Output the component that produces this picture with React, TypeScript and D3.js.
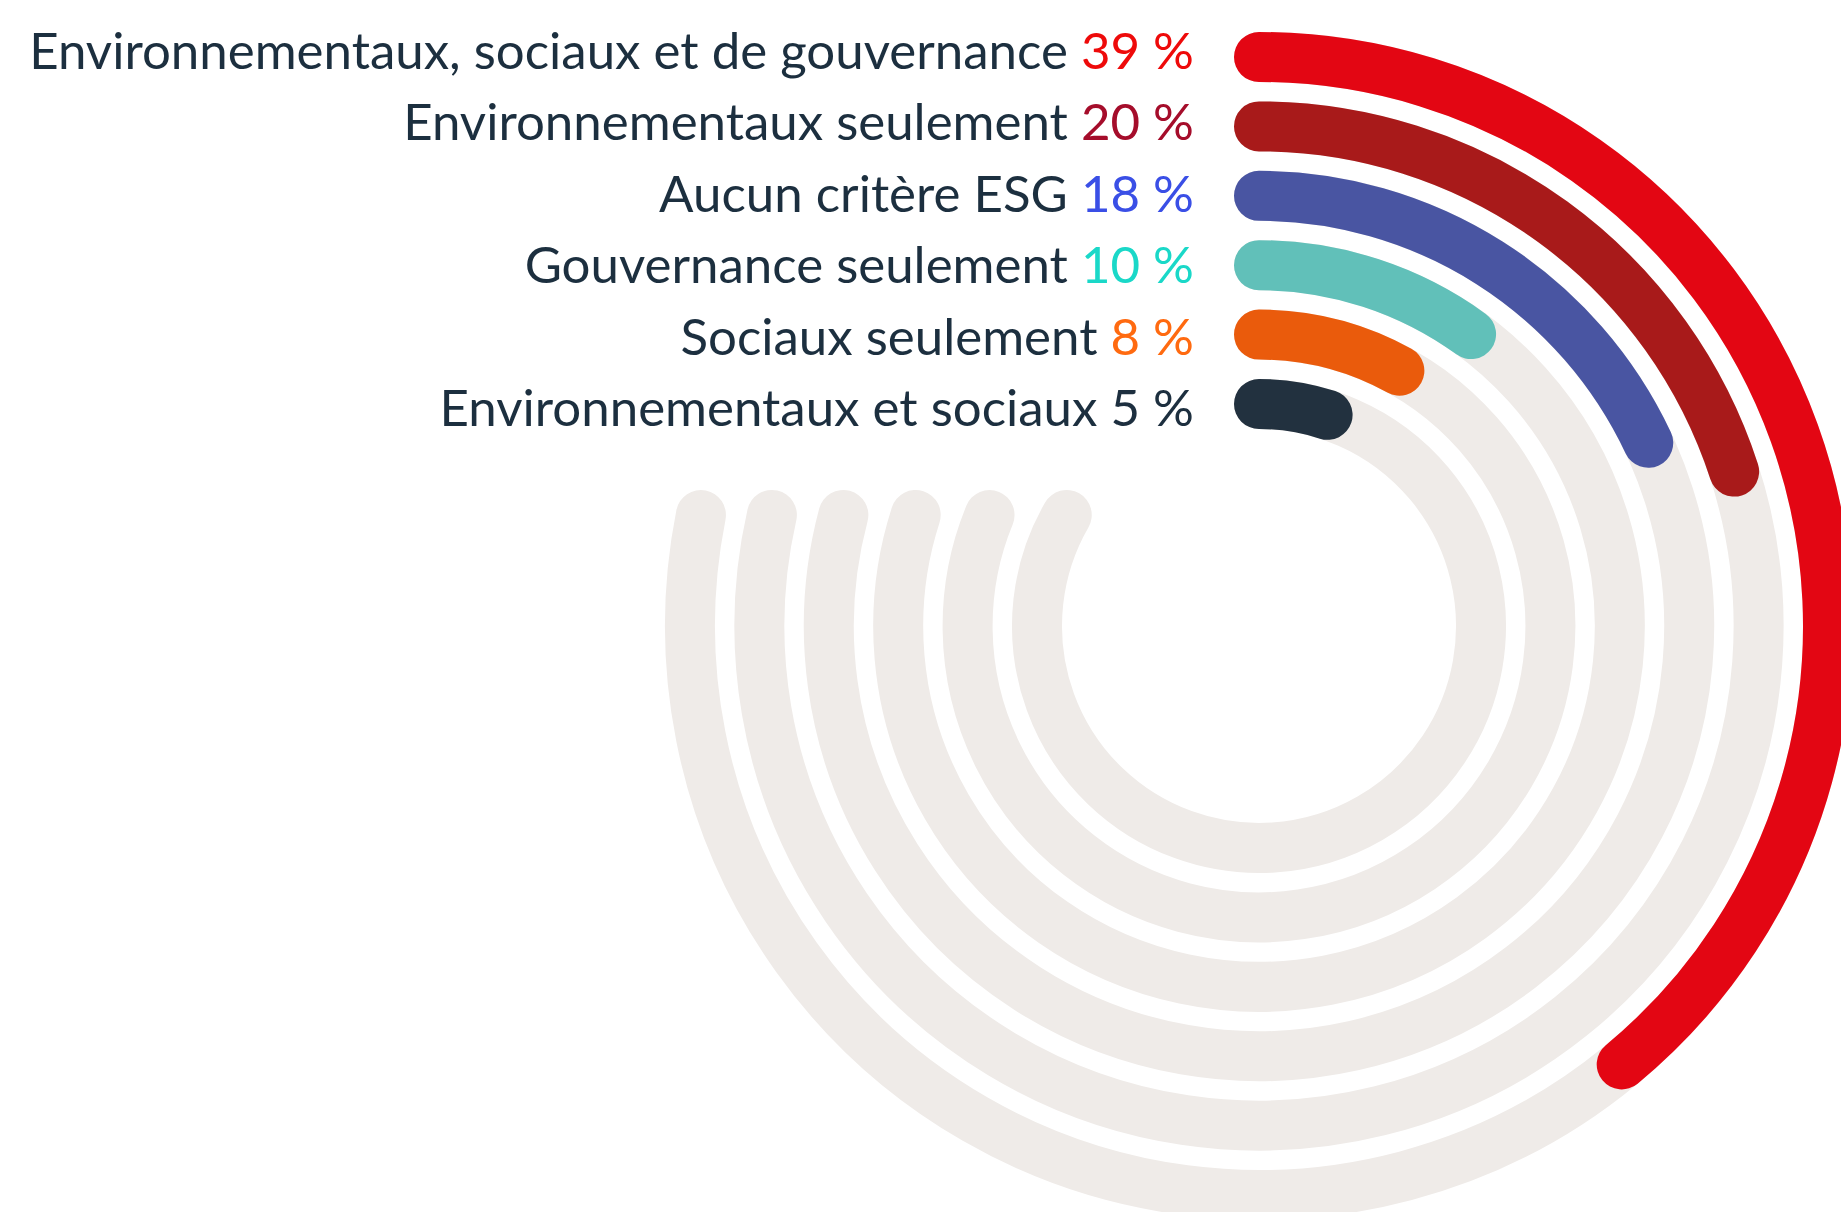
import React, { useEffect, useRef } from 'react';
import * as d3 from 'd3';

// share of respondents by ESG criteria used
const categories = [
    'Environnementaux, sociaux et de gouvernance',
    'Environnementaux seulement',
    'Aucun critère ESG',
    'Gouvernance seulement',
    'Sociaux seulement',
    'Environnementaux et sociaux',
];
const values = [39, 20, 18, 10, 8, 5];

const barColors = ['#e30613', '#a81a1a', '#4955a2', '#61c0b9', '#ea5b0c', '#22313f'];
const valueColors = ['#ee0a0a', '#a50d2b', '#3a4fe6', '#1ad8c8', '#ff6a10', '#1d2f3f'];

const App = () => {
    const chartRef = useRef<SVGSVGElement>(null);

    useEffect(() => {
        drawChart();
    }, []);

    const drawChart = () => {
        const width = 1841;
        const height = 1212;
        const cx = 1259;
        const cy = 626;
        const thickness = 50;
        const trackCut = 111; // tracks stop on a line this far above the centre

        const svg = d3.select(chartRef.current)
            .attr('width', width)
            .attr('height', height);
        svg.selectAll('*').remove();

        const r = d3.scalePoint<string>()
            .domain(categories)
            .range([569, 222]);

        const angle = d3.scaleLinear()
            .domain([0, 100])
            .range([0, 2 * Math.PI]);

        const labelY = d3.scalePoint<string>()
            .domain(categories)
            .range([69, 426]);

        const color = d3.scaleOrdinal<string, string>().domain(categories).range(barColors);
        const valueColor = d3.scaleOrdinal<string, string>().domain(categories).range(valueColors);

        const arcPath = (radius: number, a0: number, a1: number) => {
            const p = d3.path();
            p.arc(0, 0, radius, a0 - Math.PI / 2, a1 - Math.PI / 2);
            return p.toString();
        };

        const g = svg.append('g')
            .attr('transform', `translate(${cx},${cy})`);

        g.selectAll('.track')
            .data(categories)
            .enter().append('path')
            .attr('class', 'track')
            .attr('d', d => {
                const rad = r(d)!;
                return arcPath(rad, 0, 2 * Math.PI - Math.acos(trackCut / rad));
            })
            .attr('fill', 'none')
            .attr('stroke', '#efebe8')
            .attr('stroke-width', thickness)
            .attr('stroke-linecap', 'round');

        g.selectAll('.bar')
            .data(categories)
            .enter().append('path')
            .attr('class', 'bar')
            .attr('d', (d, i) => arcPath(r(d)!, 0, angle(values[i])))
            .attr('fill', 'none')
            .attr('stroke', d => color(d))
            .attr('stroke-width', thickness)
            .attr('stroke-linecap', 'round');

        const labels = svg.selectAll('.label')
            .data(categories)
            .enter().append('text')
            .attr('class', 'label')
            .attr('x', 1194)
            .attr('y', d => labelY(d)!)
            .attr('text-anchor', 'end')
            .attr('font-family', 'Lato, sans-serif')
            .attr('font-size', 51)
            .attr('fill', '#1c2f3f');

        labels.append('tspan')
            .text(d => d + ' ');

        labels.append('tspan')
            .attr('fill', d => valueColor(d))
            .text((d, i) => `${values[i]} %`);
    };

    return (
        <div style={{ position: 'absolute', left: 0, top: 0 }}>
            <svg ref={chartRef} style={{ display: 'block' }}></svg>
        </div>
    );
};

export default App;
